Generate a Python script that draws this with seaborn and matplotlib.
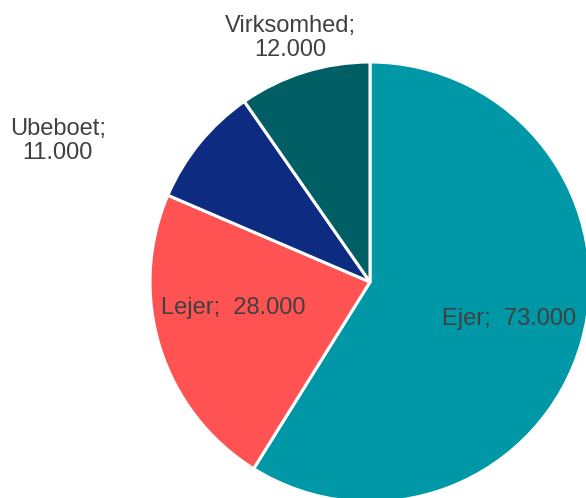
import matplotlib
matplotlib.use("Agg")
import matplotlib.pyplot as plt
import seaborn as sns

sns.set_theme(style="white")
plt.rcParams["font.family"] = ["Liberation Sans", "DejaVu Sans"]

# data
categories = ["Ejer", "Lejer", "Ubeboet", "Virksomhed"]
values = [73000, 28000, 11000, 12000]
value_labels = ["73.000", "28.000", "11.000", "12.000"]
colors = ["#0098A6", "#FF5252", "#0E2B82", "#005F64"]

palette = sns.color_palette(colors)

fig = plt.figure(figsize=(5.86, 4.98), dpi=100)
# pie is slightly larger than the canvas on the right and bottom
ax = fig.add_axes([150 / 586, -4 / 498, 440 / 586, 440 / 498])

wedges, _ = ax.pie(values, colors=palette, startangle=90, counterclock=False,
                   wedgeprops=dict(edgecolor="white", linewidth=2.2))
ax.set_xlim(-1, 1)
ax.set_ylim(-1, 1)
ax.set_aspect("equal")
ax.axis("off")

# label positions (data coords, radius = 1)
label_pos = {
    "Ejer": (0.634, -0.17, "inline"),
    "Lejer": (-0.62, -0.118, "inline"),
    "Ubeboet": (-1.42, 0.64, "stacked"),
    "Virksomhed": (-0.36, 1.11, "stacked"),
}
txt_color = "#404040"
for cat, v in zip(categories, value_labels):
    x, y, kind = label_pos[cat]
    if kind == "inline":
        s = f"{cat};  {v}"
    else:
        s = f"{cat};\n{v}"
    ax.text(x, y, s, ha="center", va="center", fontsize=17, color=txt_color,
            linespacing=1.15, clip_on=False)

fig.savefig("out.png", dpi=100)
